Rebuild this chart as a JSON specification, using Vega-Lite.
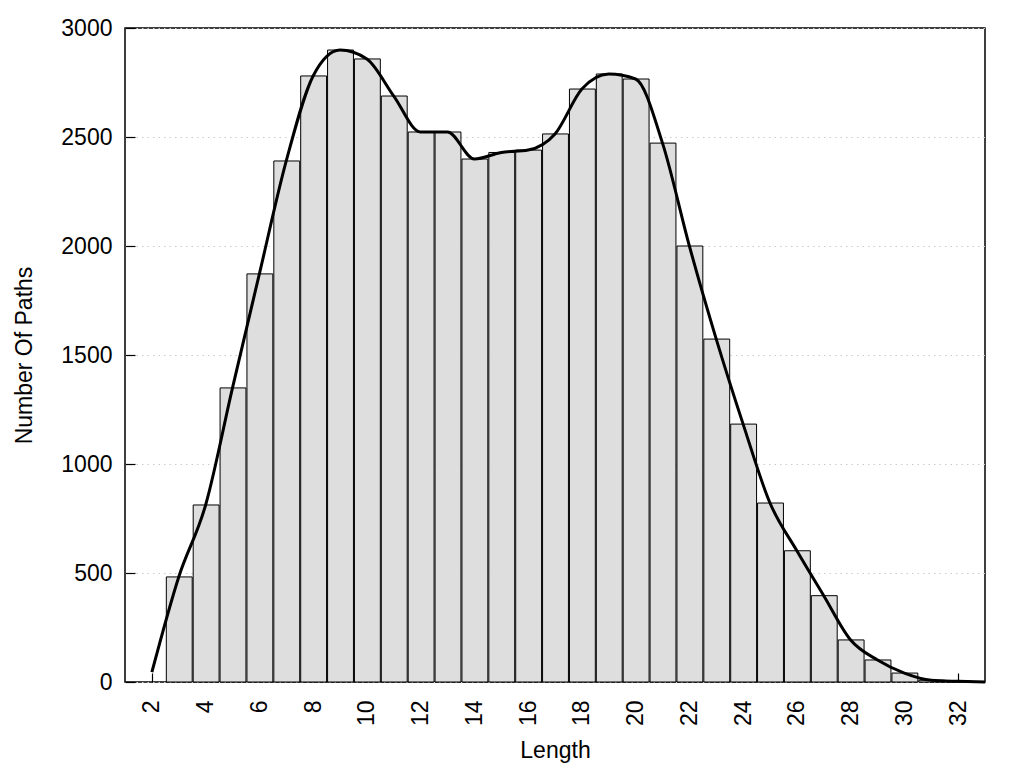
{
  "$schema": "https://vega.github.io/schema/vega-lite/v6.json",
  "width": 860,
  "height": 654,
  "autosize": {"type": "none"},
  "padding": {"left": 125, "top": 28, "right": 39, "bottom": 86},
  "background": "white",
  "config": {
    "font": "Liberation Sans",
    "view": {"stroke": "black", "strokeWidth": 1.5},
    "axis": {
      "domain": false,
      "tickColor": "black",
      "tickWidth": 1.2,
      "labelColor": "black",
      "labelFontSize": 23,
      "titleColor": "black",
      "titleFontSize": 23,
      "titleFontWeight": "normal",
      "labelFont": "Liberation Sans",
      "titleFont": "Liberation Sans"
    }
  },
  "datasets": {
    "bars": [
      {"length": 3, "lo": 2.5, "hi": 3.5, "count": 482},
      {"length": 4, "lo": 3.5, "hi": 4.5, "count": 812},
      {"length": 5, "lo": 4.5, "hi": 5.5, "count": 1349},
      {"length": 6, "lo": 5.5, "hi": 6.5, "count": 1872},
      {"length": 7, "lo": 6.5, "hi": 7.5, "count": 2390},
      {"length": 8, "lo": 7.5, "hi": 8.5, "count": 2780},
      {"length": 9, "lo": 8.5, "hi": 9.5, "count": 2899},
      {"length": 10, "lo": 9.5, "hi": 10.5, "count": 2858},
      {"length": 11, "lo": 10.5, "hi": 11.5, "count": 2688},
      {"length": 12, "lo": 11.5, "hi": 12.5, "count": 2523},
      {"length": 13, "lo": 12.5, "hi": 13.5, "count": 2523},
      {"length": 14, "lo": 13.5, "hi": 14.5, "count": 2399},
      {"length": 15, "lo": 14.5, "hi": 15.5, "count": 2429},
      {"length": 16, "lo": 15.5, "hi": 16.5, "count": 2440},
      {"length": 17, "lo": 16.5, "hi": 17.5, "count": 2514},
      {"length": 18, "lo": 17.5, "hi": 18.5, "count": 2720},
      {"length": 19, "lo": 18.5, "hi": 19.5, "count": 2789},
      {"length": 20, "lo": 19.5, "hi": 20.5, "count": 2766},
      {"length": 21, "lo": 20.5, "hi": 21.5, "count": 2472},
      {"length": 22, "lo": 21.5, "hi": 22.5, "count": 2000},
      {"length": 23, "lo": 22.5, "hi": 23.5, "count": 1573},
      {"length": 24, "lo": 23.5, "hi": 24.5, "count": 1183},
      {"length": 25, "lo": 24.5, "hi": 25.5, "count": 821},
      {"length": 26, "lo": 25.5, "hi": 26.5, "count": 602},
      {"length": 27, "lo": 26.5, "hi": 27.5, "count": 396},
      {"length": 28, "lo": 27.5, "hi": 28.5, "count": 193},
      {"length": 29, "lo": 28.5, "hi": 29.5, "count": 101},
      {"length": 30, "lo": 29.5, "hi": 30.5, "count": 41},
      {"length": 31, "lo": 30.5, "hi": 31.5, "count": 8},
      {"length": 32, "lo": 31.5, "hi": 32.5, "count": 3}
    ],
    "curve": [
      {"length": 2, "count": 45},
      {"length": 3, "count": 482},
      {"length": 4, "count": 812},
      {"length": 5, "count": 1349},
      {"length": 6, "count": 1872},
      {"length": 7, "count": 2390},
      {"length": 8, "count": 2780},
      {"length": 9, "count": 2899},
      {"length": 10, "count": 2858},
      {"length": 11, "count": 2688},
      {"length": 12, "count": 2523},
      {"length": 13, "count": 2523},
      {"length": 14, "count": 2399},
      {"length": 15, "count": 2429},
      {"length": 16, "count": 2440},
      {"length": 17, "count": 2514},
      {"length": 18, "count": 2720},
      {"length": 19, "count": 2789},
      {"length": 20, "count": 2766},
      {"length": 21, "count": 2472},
      {"length": 22, "count": 2000},
      {"length": 23, "count": 1573},
      {"length": 24, "count": 1183},
      {"length": 25, "count": 821},
      {"length": 26, "count": 602},
      {"length": 27, "count": 396},
      {"length": 28, "count": 193},
      {"length": 29, "count": 101},
      {"length": 30, "count": 41},
      {"length": 31, "count": 8},
      {"length": 32, "count": 3},
      {"length": 33, "count": 0}
    ]
  },
  "layer": [
    {
      "data": {"name": "bars"},
      "mark": {"type": "bar", "fill": "#dedede", "stroke": "black", "strokeWidth": 1},
      "encoding": {
        "x": {
          "field": "lo",
          "type": "quantitative",
          "bin": {"binned": true},
          "scale": {"domain": [1, 33], "nice": false, "zero": false},
          "axis": {
            "title": "Length",
            "values": [2, 3, 4, 5, 6, 7, 8, 9, 10, 11, 12, 13, 14, 15, 16, 17, 18, 19, 20, 21, 22, 23, 24, 25, 26, 27, 28, 29, 30, 31, 32],
            "labelExpr": "datum.value % 2 === 0 ? datum.label : ''",
            "labelAngle": 270,
            "labelPadding": 18,
            "tickSize": 9,
            "offset": -9,
            "grid": false,
            "titlePadding": 14
          }
        },
        "x2": {"field": "hi"},
        "y": {
          "field": "count",
          "type": "quantitative",
          "scale": {"domain": [0, 3000], "nice": false},
          "axis": {
            "title": "Number Of Paths",
            "values": [0, 500, 1000, 1500, 2000, 2500, 3000],
            "format": "d",
            "tickSize": 10,
            "offset": -10,
            "labelPadding": 13,
            "grid": true,
            "gridColor": "#cccccc",
            "gridDash": [1.5, 4],
            "gridWidth": 1,
            "titlePadding": 24
          }
        }
      }
    },
    {
      "data": {"name": "curve"},
      "mark": {"type": "line", "interpolate": "monotone", "color": "black", "strokeWidth": 3},
      "encoding": {
        "x": {"field": "length", "type": "quantitative"},
        "y": {"field": "count", "type": "quantitative"}
      }
    }
  ]
}
